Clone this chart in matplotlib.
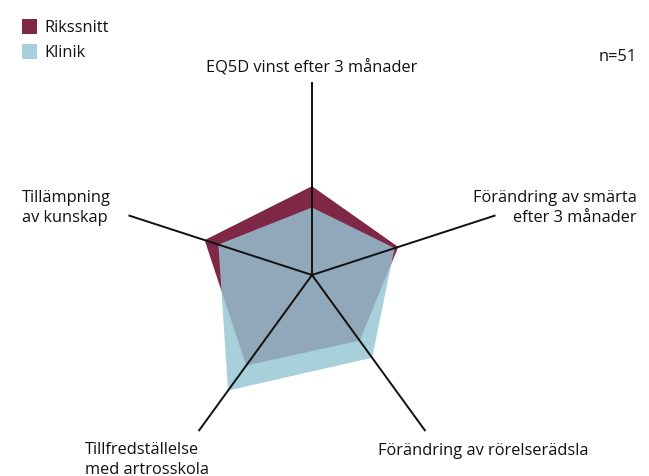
import numpy as np
import matplotlib
matplotlib.use("Agg")
import matplotlib.pyplot as plt
from matplotlib.patches import Rectangle

categories = ["EQ5D vinst efter 3 månader",
              "Förändring av smärta\nefter 3 månader",
              "Förändring av rörelserädsla",
              "Tillfredställelse\nmed artrosskola",
              "Tillämpning\nav kunskap"]
rikssnitt = [0.46, 0.47, 0.42, 0.58, 0.585]
klinik = [0.35, 0.45, 0.53, 0.74, 0.51]
series_names = ["Rikssnitt", "Klinik"]
n_label = "n=51"

W, H = 649, 477
plt.rcParams['font.family'] = ['Open Sans', 'DejaVu Sans']
fig = plt.figure(figsize=(W/100, H/100), dpi=100)

def fx(x): return x / W
def fy(y): return 1 - y / H

cx, cy, R = 312, 276, 193
ax = fig.add_axes([fx(cx - R), fy(cy + R), 2*R/W, 2*R/H], projection='polar')
ax.set_theta_offset(np.pi/2)
ax.set_theta_direction(-1)
ax.set_ylim(0, 1)
ax.grid(False)
ax.set_xticks([]); ax.set_yticks([])
ax.spines['polar'].set_visible(False)
ax.patch.set_alpha(0)

N = len(categories)
theta = np.arange(N) * 2*np.pi / N
tc = np.append(theta, theta[0])
rk = np.append(rikssnitt, rikssnitt[0])
kl = np.append(klinik, klinik[0])

c_riks = "#7F2746"
c_klin = "#95C6D4"
ax.fill(tc, rk, color=c_riks, lw=0, zorder=1)
ax.fill(tc, kl, color=c_klin, alpha=0.82, lw=0, zorder=2)
for t in theta:
    ax.plot([t, t], [0, 1], color="#111111", lw=1.4, zorder=3)

fs = 11.8
ls = 1.3
tcol = "#111111"
fig.text(fx(312), fy(68), categories[0], ha='center', va='center', fontsize=fs, color=tcol)
fig.text(fx(637), fy(208), categories[1], ha='right', va='center', fontsize=fs, color=tcol, linespacing=ls, multialignment='right')
fig.text(fx(378), fy(451), categories[2], ha='left', va='center', fontsize=fs, color=tcol)
fig.text(fx(85), fy(460), categories[3], ha='left', va='center', fontsize=fs, color=tcol, linespacing=ls)
fig.text(fx(22), fy(208), categories[4], ha='left', va='center', fontsize=fs, color=tcol, linespacing=ls)
fig.text(fx(637), fy(57), n_label, ha='right', va='center', fontsize=fs, color=tcol)

for i, (name, col) in enumerate(zip(series_names, [c_riks, "#A8D0DC"])):
    y0 = 20 + i*25
    fig.patches.append(Rectangle((fx(22), fy(y0+15)), 15/W, 15/H, transform=fig.transFigure, color=col, lw=0))
    fig.text(fx(44), fy(y0+8), name, ha='left', va='center', fontsize=fs, color=tcol)

fig.savefig("out.png", dpi=100)
